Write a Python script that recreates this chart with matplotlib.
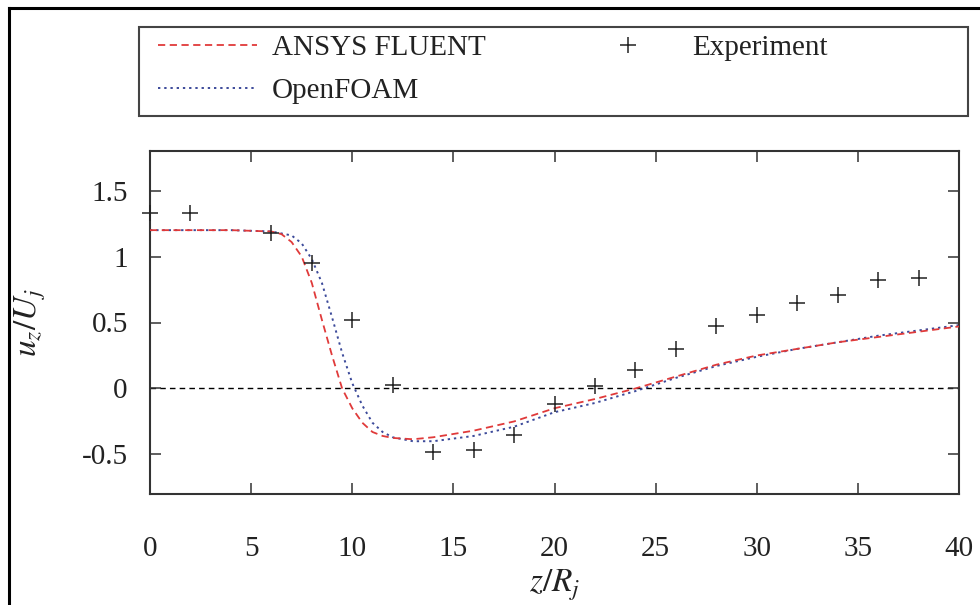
"""Axial velocity profile u_z/U_j along z/R_j: ANSYS FLUENT, OpenFOAM, experiment."""

import matplotlib.pyplot as plt
from matplotlib.lines import Line2D
from matplotlib.patches import Rectangle

plt.rcParams["font.family"] = ["Liberation Serif", "DejaVu Serif"]
plt.rcParams["mathtext.fontset"] = "stix"

# ANSYS FLUENT (red dashed)
z_fluent = [0, 2, 4, 6, 6.5, 7, 7.5, 8, 8.5, 9, 9.5, 10, 10.5, 11, 11.5, 12, 13,
            14, 16, 18, 20, 22, 24, 26, 28, 30, 32, 34, 36, 38, 40]
u_fluent = [1.20, 1.20, 1.20, 1.19, 1.17, 1.11, 1.00, 0.80, 0.52, 0.25, 0.00,
            -0.15, -0.26, -0.33, -0.36, -0.375, -0.385, -0.37, -0.32, -0.25,
            -0.15, -0.08, 0.00, 0.09, 0.18, 0.25, 0.30, 0.35, 0.39, 0.43, 0.47]

# OpenFOAM (blue dotted)
z_foam = [0, 2, 4, 6, 7, 7.5, 8, 8.5, 9, 9.5, 10, 10.5, 11, 11.5, 12, 13, 14,
          16, 18, 20, 22, 24, 26, 28, 30, 32, 34, 36, 38, 40]
u_foam = [1.20, 1.20, 1.20, 1.19, 1.16, 1.10, 0.98, 0.80, 0.54, 0.27, 0.04,
          -0.13, -0.26, -0.33, -0.37, -0.40, -0.40, -0.36, -0.29, -0.18,
          -0.11, -0.02, 0.08, 0.17, 0.24, 0.30, 0.35, 0.40, 0.44, 0.48]

# Experiment (+ markers)
z_exp = [0, 2, 6, 8, 10, 12, 14, 16, 18, 20, 22, 24, 26, 28, 30, 32, 34, 36, 38]
u_exp = [1.33, 1.33, 1.18, 0.95, 0.52, 0.03, -0.48, -0.47, -0.35, -0.12,
         0.02, 0.14, 0.30, 0.47, 0.56, 0.65, 0.71, 0.82, 0.84]

x_ticks = [0, 5, 10, 15, 20, 25, 30, 35, 40]
y_ticks = [-0.5, 0, 0.5, 1, 1.5]
y_ticklabels = ["-0.5", "0", "0.5", "1", "1.5"]

W, H = 980, 605
fig = plt.figure(figsize=(W / 100, H / 100), dpi=100)
ax = fig.add_axes([150 / W, 1 - 494 / H, (959 - 150) / W, (494 - 151) / H])

ax.axhline(0, color="black", linestyle=(0, (4, 3)), linewidth=1.0, zorder=1)
ax.plot(z_fluent, u_fluent, color="#e03a3a", linestyle=(0, (4, 2.5)),
        linewidth=1.3, label="ANSYS FLUENT", zorder=3)
ax.plot(z_foam, u_foam, color="#3c4a9a", linestyle=(0, (1.2, 2)),
        linewidth=1.4, label="OpenFOAM", zorder=2)
ax.plot(z_exp, u_exp, linestyle="none", marker="+", color="#222222",
        markersize=11, markeredgewidth=1.1, label="Experiment", zorder=4,
        clip_on=False)

ax.set_xlim(0, 40)
ax.set_ylim(-0.8, 1.8)
ax.set_xticks(x_ticks)
ax.set_xticklabels([str(t) for t in x_ticks])
ax.set_yticks(y_ticks)
ax.set_yticklabels(y_ticklabels)
ax.tick_params(direction="in", length=8, width=1.1, color="#333333",
               top=True, right=True, labelsize=21, labelcolor="#222222")
ax.tick_params(axis="x", pad=30)
ax.tick_params(axis="y", pad=16)
for spine in ax.spines.values():
    spine.set_color("#333333")
    spine.set_linewidth(1.5)

ax.set_xlabel("$z/R_j$", fontsize=24, color="#222222", labelpad=4)
ax.set_ylabel("$u_z/U_j$", fontsize=24, color="#222222", labelpad=24)

# legend box
fig.patches.append(Rectangle((139 / W, 1 - 116 / H), (968 - 139) / W, 89 / H,
                             transform=fig.transFigure, fill=False,
                             edgecolor="#444444", linewidth=1.5))
handles, labels = ax.get_legend_handles_labels()
fig.legend(handles, labels,
           loc="upper left", bbox_to_anchor=(158 / W, 1 - 35 / H),
           ncol=2, frameon=False, fontsize=21, handlelength=3.4,
           handletextpad=0.5, columnspacing=3.2, labelspacing=0.55,
           borderpad=0, borderaxespad=0, labelcolor="#222222")

# outer frame (left and top edges)
fig.add_artist(Line2D([9 / W, 9 / W], [0, 1 - 8 / H], transform=fig.transFigure,
                      color="black", linewidth=2.2))
fig.add_artist(Line2D([9 / W, 1], [1 - 8 / H, 1 - 8 / H],
                      transform=fig.transFigure, color="black", linewidth=2.2))

fig.savefig("out.png", dpi=100)
